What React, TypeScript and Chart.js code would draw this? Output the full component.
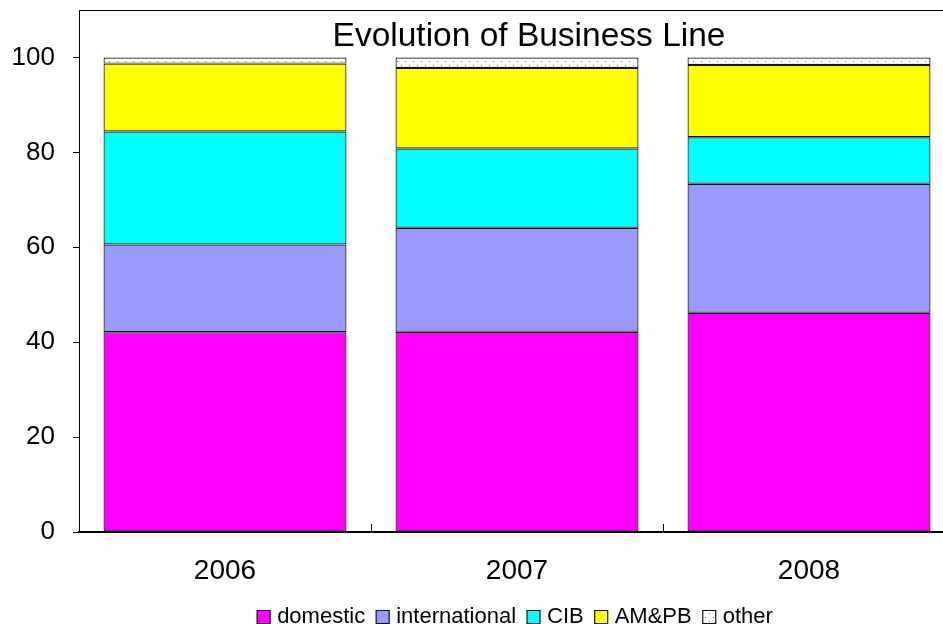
import { useEffect, useRef } from 'react';
import { Chart, registerables } from 'chart.js';

Chart.register(...registerables);

const categories = ['2006', '2007', '2008'];
const domestic = [42.1, 42.2, 46.2];
const international = [18.5, 21.9, 27.2];
const cib = [23.8, 16.7, 9.8];
const ampb = [14.3, 17.0, 15.2];
const other = [1.3, 2.2, 1.6];
const seriesNames = ['domestic', 'international', 'CIB', 'AM&PB', 'other'];
const chartTitle = 'Evolution of Business Line';
const yMax = 110;
const yStep = 20;
const yLastTick = 100;

const FONT = '"Liberation Sans", Arial, sans-serif';

function makeDotPattern(ctx: CanvasRenderingContext2D): CanvasPattern | string {
  const c = document.createElement('canvas');
  c.width = 8;
  c.height = 8;
  const g = c.getContext('2d');
  if (!g) return '#ffffff';
  g.fillStyle = '#ffffff';
  g.fillRect(0, 0, 8, 8);
  g.fillStyle = '#6e6e6e';
  g.fillRect(1, 1, 1, 1);
  g.fillRect(5, 5, 1, 1);
  return ctx.createPattern(c, 'repeat') || '#ffffff';
}

const framePlugin = {
  id: 'frame',
  beforeDatasetsDraw(chart: any) {
    const { ctx, chartArea } = chart;
    ctx.save();
    ctx.strokeStyle = '#000';
    ctx.lineWidth = 1;
    ctx.strokeRect(chartArea.left + 0.5, chartArea.top + 0.5, chartArea.right - chartArea.left, chartArea.bottom - chartArea.top);
    ctx.restore();
  },
  afterDatasetsDraw(chart: any) {
    const { ctx, chartArea } = chart;
    const xs = chart.scales.x;
    ctx.save();
    ctx.strokeStyle = '#000';
    ctx.lineWidth = 1;
    for (let i = 1; i < categories.length; i++) {
      const px = Math.round((xs.getPixelForValue(i - 1) + xs.getPixelForValue(i)) / 2) + 0.5;
      ctx.beginPath();
      ctx.moveTo(px, chartArea.bottom);
      ctx.lineTo(px, chartArea.bottom - 8);
      ctx.stroke();
    }
    // title inside plot area
    ctx.fillStyle = '#000';
    ctx.font = `33.5px ${FONT}`;
    ctx.textAlign = 'center';
    ctx.textBaseline = 'alphabetic';
    const cx = (chartArea.left + chartArea.right) / 2 + 12;
    ctx.fillText(chartTitle, cx, chartArea.top + 35.5);
    ctx.restore();
  },
};

export default function App() {
  const ref = useRef<HTMLCanvasElement | null>(null);

  useEffect(() => {
    const canvas = ref.current;
    if (!canvas) return;
    const ctx = canvas.getContext('2d');
    if (!ctx) return;
    const pattern = makeDotPattern(ctx);
    const colors: any[] = ['#FF00FF', '#9999FF', '#00FFFF', '#FFFF00', pattern];
    const values = [domestic, international, cib, ampb, other];

    const chart = new Chart(canvas, {
      type: 'bar',
      data: {
        labels: categories,
        datasets: seriesNames.map((name, i) => ({
          label: name,
          data: values[i],
          backgroundColor: colors[i],
          borderColor: '#111',
          borderWidth: 1.2,
          borderSkipped: false,
          barPercentage: 0.832,
          categoryPercentage: 1,
        })),
      },
      options: {
        responsive: false,
        animation: false,
        devicePixelRatio: 1,
        layout: { padding: { top: 10, right: 81, left: 0, bottom: -14 } },
        font: { family: FONT },
        plugins: {
          title: { display: false },
          tooltip: { enabled: false },
          legend: {
            display: true,
            position: 'bottom',
            fullSize: false,
            labels: {
              usePointStyle: true,
              pointStyle: 'rect',
              boxWidth: 5,
              boxHeight: 13,
              padding: 15,
              color: '#000',
              font: { family: FONT, size: 22 },
            },
          },
        },
        scales: {
          x: {
            stacked: true,
            grid: { display: false, drawOnChartArea: false, drawTicks: false },
            border: { display: true, color: '#000', width: 1.5 },
            ticks: { color: '#000', font: { family: FONT, size: 28 }, padding: 22 },
            afterFit(scale: any) {
              scale.height = 59;
              scale.paddingLeft = 0;
              scale.paddingRight = 0;
            },
          },
          y: {
            stacked: true,
            min: 0,
            max: yMax,
            grid: { drawOnChartArea: false, drawTicks: true, tickLength: 6, color: '#000' },
            border: { display: true, color: '#000', width: 1 },
            ticks: {
              stepSize: yStep,
              color: '#000',
              padding: 18,
              font: { family: FONT, size: 26 },
            },
            afterBuildTicks(scale: any) {
              scale.ticks = scale.ticks.filter((t: any) => t.value <= yLastTick);
            },
            afterFit(scale: any) {
              scale.width = 79;
              scale.paddingTop = 0;
              scale.paddingBottom = 0;
            },
          },
        },
      },
      plugins: [framePlugin],
    });
    return () => chart.destroy();
  }, []);

  return (
    <div style={{ position: 'fixed', left: 0, top: 0, width: 943, height: 624, overflow: 'hidden', background: '#fff' }}>
      <canvas ref={ref} width={1036} height={624} style={{ display: 'block' }} />
    </div>
  );
}
